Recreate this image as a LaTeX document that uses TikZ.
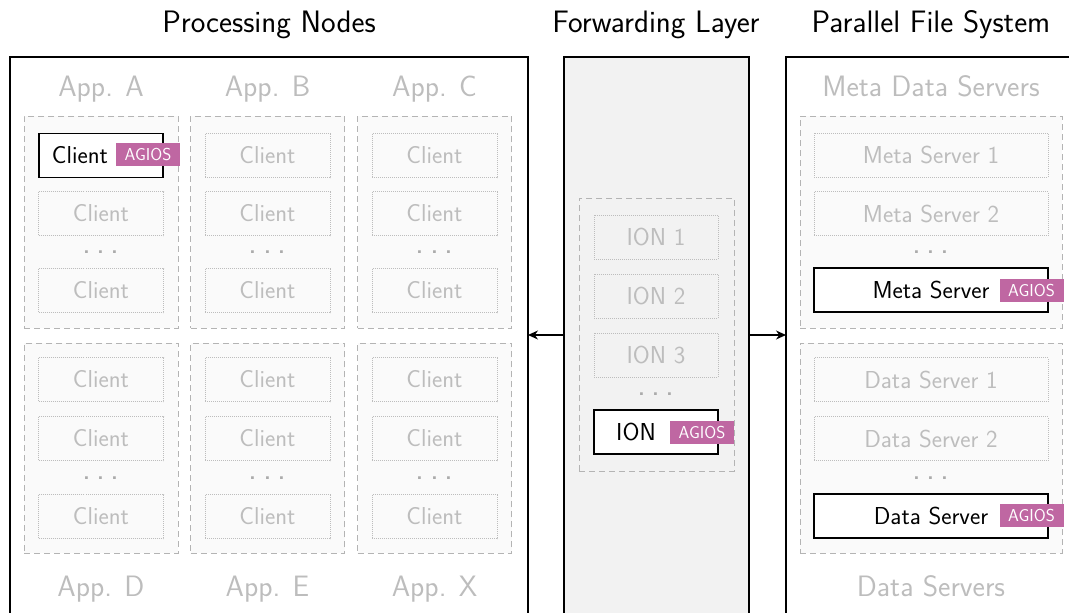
\documentclass[tikz,border=0pt]{standalone}
\usepackage{fontspec}
\usetikzlibrary{arrows.meta}
\definecolor{agios}{HTML}{BF67A2}
\definecolor{fwfill}{HTML}{F2F2F2}
\definecolor{grpfill}{HTML}{FAFAFA}
\definecolor{ghost}{HTML}{BDBDBD}
\definecolor{grpline}{HTML}{B4B4B4}
\tikzset{
  every node/.style={font=\sffamily, inner sep=0pt, outer sep=0pt},
  titletext/.style={font=\sffamily\fontsize{31}{36}\selectfont, anchor=base},
  ghostlabel/.style={font=\sffamily\fontsize{29.5}{34}\selectfont, anchor=base, text=ghost},
  mainbox/.style={draw=black, line width=1.3pt, anchor=north west},
  grpbox/.style={draw=grpline, fill=grpfill, dash pattern=on 6pt off 4pt, line width=1pt},
  ghostbox/.style={draw=ghost, densely dotted, line width=1pt, minimum height=44pt,
     text=ghost, font=\sffamily\fontsize{24.5}{28}\selectfont},
  livebox/.style={draw=black, line width=1.3pt, fill=white, minimum height=44pt},
  livetext/.style={font=\sffamily\fontsize{24.5}{28}\selectfont, text=black},
  agiostag/.style={fill=agios, text=white, minimum width=64pt, minimum height=23pt,
     font=\sffamily\fontsize{17.3}{20}\selectfont},
  dotsnode/.style={text=black!33, anchor=base, font=\sffamily\fontsize{34}{36}\selectfont}
}
\tikzset{link/.style={-{Stealth[length=10pt,width=9pt]}, line width=1.2pt}}
\newcommand{\mydots}{.\hspace{5.5pt}.\hspace{5.5pt}.}
\begin{document}
\begin{tikzpicture}[x=1pt,y=-1pt]
\useasboundingbox (0,0) rectangle (1069,613);
\clip (0,0) rectangle (1069,613);

% main boxes
\node[mainbox, minimum width=518pt, minimum height=600pt] (pn) at (10,57) {};
\node[mainbox, fill=fwfill, minimum width=185pt, minimum height=600pt] (fw) at (564,57) {};
\node[mainbox, minimum width=320pt, minimum height=600pt] (pfs) at (786,57) {};

% titles
\node[titletext] (tpn) at (269,32) {Processing Nodes};
\node[titletext] (tfw) at (656,32) {Forwarding Layer};
\node[titletext] (tpfs) at (931,32) {Parallel File System};

% application labels
\node[ghostlabel] (lA) at (101,96) {App. A};
\node[ghostlabel] (lB) at (267.5,96) {App. B};
\node[ghostlabel] (lC) at (434.5,96) {App. C};
\node[ghostlabel] (lD) at (101,596) {App. D};
\node[ghostlabel] (lE) at (267.5,596) {App. E};
\node[ghostlabel] (lX) at (434.5,596) {App. X};

% application groups and clients
\foreach \cx/\nm in {101/a,267.5/b,434.5/c}{
  \node[grpbox, minimum width=154pt, minimum height=212pt] (g\nm top) at (\cx,222) {};
  \node[grpbox, minimum width=154pt, minimum height=210pt] (g\nm bot) at (\cx,448) {};
  \node[ghostbox, minimum width=125pt] (c\nm 2) at (\cx,213.5) {Client};
  \node[dotsnode] (d\nm top) at (\cx,253) {\mydots};
  \node[ghostbox, minimum width=125pt] (c\nm 3) at (\cx,290.5) {Client};
  \node[ghostbox, minimum width=125pt] (c\nm 4) at (\cx,379.5) {Client};
  \node[ghostbox, minimum width=125pt] (c\nm 5) at (\cx,438.5) {Client};
  \node[dotsnode] (d\nm bot) at (\cx,479) {\mydots};
  \node[ghostbox, minimum width=125pt] (c\nm 6) at (\cx,516.5) {Client};
}
\foreach \cx/\nm in {267.5/b,434.5/c}{
  \node[ghostbox, minimum width=125pt] (c\nm 1) at (\cx,155.5) {Client};
}
\node[livebox, minimum width=124pt] (ca1) at (101,155.5) {};
\node[livetext] (ca1t) at (80,155.5) {Client};
\node[agiostag] (agc) at (148,154.5) {AGIOS};

% forwarding layer
\node[grpbox, fill=fwfill, minimum width=155pt, minimum height=273pt] (gion) at (656.5,334.5) {};
\node[ghostbox, minimum width=124pt] (ion1) at (656,237) {ION 1};
\node[ghostbox, minimum width=124pt] (ion2) at (656,296) {ION 2};
\node[ghostbox, minimum width=124pt] (ion3) at (656,355) {ION 3};
\node[dotsnode] (dion) at (656,395) {\mydots};
\node[livebox, minimum width=124pt] (ion) at (656,432) {};
\node[livetext] (iont) at (636,432) {ION};
\node[agiostag] (agi) at (702,432) {AGIOS};

% parallel file system
\node[ghostlabel] (lmds) at (931,96) {Meta Data Servers};
\node[ghostlabel] (lds) at (931,596) {Data Servers};
\node[grpbox, minimum width=262pt, minimum height=212pt] (gmeta) at (931,222) {};
\node[grpbox, minimum width=262pt, minimum height=210pt] (gdata) at (931,448) {};
\node[ghostbox, minimum width=234pt] (ms1) at (931,155) {Meta Server 1};
\node[ghostbox, minimum width=234pt] (ms2) at (931,213.5) {Meta Server 2};
\node[dotsnode] (dms) at (931,253) {\mydots};
\node[livebox, minimum width=234pt] (ms) at (931,290) {};
\node[livetext] (mst) at (931,290) {Meta Server};
\node[agiostag] (agm) at (1031.5,290) {AGIOS};
\node[ghostbox, minimum width=234pt] (ds1) at (931,379.5) {Data Server 1};
\node[ghostbox, minimum width=234pt] (ds2) at (931,438.5) {Data Server 2};
\node[dotsnode] (dds) at (931,479) {\mydots};
\node[livebox, minimum width=234pt] (ds) at (931,516) {};
\node[livetext] (dst) at (931,516) {Data Server};
\node[agiostag] (agd) at (1031.5,515.5) {AGIOS};

% connectors
\draw[link] (fw.west |- 0,335) -- (pn.east |- 0,335);
\draw[link] (fw.east |- 0,335) -- (pfs.west |- 0,335);
\end{tikzpicture}
\end{document}
